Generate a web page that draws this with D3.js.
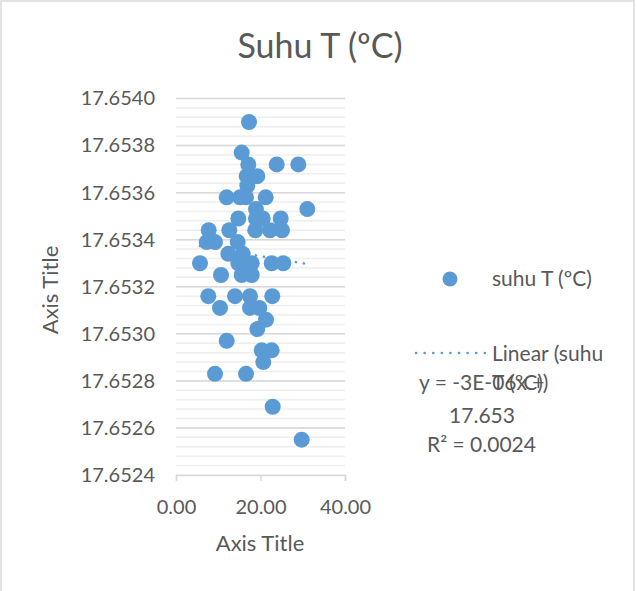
<!DOCTYPE html>
<html>
<head>
<meta charset="utf-8">
<script src="https://cdn.jsdelivr.net/npm/d3@7"></script>
<style>
  body { margin: 0; background: #fff; }
  text { font-family: Lato, "Open Sans", sans-serif; fill: #595959; }
</style>
</head>
<body>
<div id="chart"></div>
<script>
// suhu T (ºC) readings
var xValues = [17.28, 15.55, 17.11, 23.83, 28.95, 16.73, 19.24, 16.88, 12.00, 15.15,
  16.57, 21.23, 31.08, 18.93, 14.75, 18.93, 20.52, 24.78, 7.74, 12.62,
  18.77, 22.25, 25.09, 7.27, 9.23, 14.60, 12.38, 15.79, 5.68, 14.75,
  17.92, 22.65, 25.40, 10.65, 15.55, 17.92, 16.17, 7.64, 13.96, 17.51,
  22.79, 10.41, 17.51, 19.72, 21.30, 19.24, 12.00, 20.28, 22.65, 20.66,
  9.23, 16.57, 22.89, 29.75];
var yValues = [17.65390, 17.65377, 17.65372, 17.65372, 17.65372, 17.65367, 17.65367, 17.65363, 17.65358, 17.65358,
  17.65358, 17.65358, 17.65353, 17.65353, 17.65349, 17.65349, 17.65349, 17.65349, 17.65344, 17.65344,
  17.65344, 17.65344, 17.65344, 17.65339, 17.65339, 17.65339, 17.65334, 17.65334, 17.65330, 17.65330,
  17.65330, 17.65330, 17.65330, 17.65325, 17.65325, 17.65325, 17.65330, 17.65316, 17.65316, 17.65316,
  17.65316, 17.65311, 17.65311, 17.65311, 17.65306, 17.65302, 17.65297, 17.65293, 17.65293, 17.65288,
  17.65283, 17.65283, 17.65269, 17.65255];

var xTicks = [0, 20, 40];
var yTicks = [17.6524, 17.6526, 17.6528, 17.6530, 17.6532, 17.6534, 17.6536, 17.6538, 17.6540];
var yMinorStep = 0.00004;

// trendline as shown by the chart (slope from label, intercept)
var trendSlope = -3e-6;
var trendIntercept = 17.65339;

var chartTitle = "Suhu T (ºC)";
var seriesName = "suhu T (ºC)";
var trendName = ["Linear (suhu", "T (ºC))"];
var trendLabel = ["y = -3E-06x +", "17.653", "R² = 0.0024"];

var blue = "#5b9bd5";

var svg = d3.select("#chart").append("svg")
  .attr("width", 637)
  .attr("height", 591);

svg.append("rect")
  .attr("x", 1).attr("y", 1)
  .attr("width", 633).attr("height", 620)
  .attr("fill", "#fff")
  .attr("stroke", "#d9d9d9")
  .attr("stroke-width", 1.5);

var x = d3.scaleLinear().domain([0, 40]).range([176, 345]);
var y = d3.scaleLinear().domain([17.6524, 17.6540]).range([475, 98.5]);

// minor gridlines
var minor = d3.range(17.6524, 17.65401, yMinorStep);
svg.append("g").selectAll("line")
  .data(minor)
  .join("line")
  .attr("x1", x(0)).attr("x2", x(40))
  .attr("y1", d => y(d)).attr("y2", d => y(d))
  .attr("stroke", "#eeeeee")
  .attr("stroke-width", 1.5);

// major gridlines
svg.append("g").selectAll("line")
  .data(yTicks.slice(1))
  .join("line")
  .attr("x1", x(0)).attr("x2", x(40))
  .attr("y1", d => y(d)).attr("y2", d => y(d))
  .attr("stroke", "#d9d9d9")
  .attr("stroke-width", 1.5);

// x axis
var xAxis = svg.append("g")
  .attr("transform", "translate(0," + y(17.6524) + ")")
  .call(d3.axisBottom(x).tickValues(xTicks).tickSize(6).tickPadding(19).tickFormat(d3.format(".2f")));
xAxis.select(".domain").attr("stroke", "#d9d9d9").attr("stroke-width", 1.5);
xAxis.selectAll(".tick line").attr("stroke", "#d9d9d9").attr("stroke-width", 1.5);
xAxis.selectAll(".tick text").attr("font-size", 20).attr("font-family", "Lato").attr("fill", "#595959");

// y axis labels
var yAxis = svg.append("g")
  .attr("transform", "translate(" + x(0) + ",0)")
  .call(d3.axisLeft(y).tickValues(yTicks).tickSize(0).tickPadding(21).tickFormat(d3.format(".4f")));
yAxis.select(".domain").remove();
yAxis.selectAll(".tick text").attr("font-size", 20).attr("font-family", "Lato").attr("fill", "#595959");

// points
svg.append("g").selectAll("circle")
  .data(xValues.map((v, i) => [v, yValues[i]]))
  .join("circle")
  .attr("cx", d => x(d[0]))
  .attr("cy", d => y(d[1]))
  .attr("r", 8)
  .attr("fill", blue);

// linear trendline over the data range
var ext = d3.extent(xValues);
svg.append("line")
  .attr("x1", x(ext[0])).attr("y1", y(trendIntercept + trendSlope * ext[0]))
  .attr("x2", x(ext[1])).attr("y2", y(trendIntercept + trendSlope * ext[1]))
  .attr("stroke", blue)
  .attr("stroke-width", 2.6)
  .attr("stroke-dasharray", "0.1 8")
  .attr("stroke-linecap", "round");

// title
svg.append("text")
  .attr("x", 320).attr("y", 58)
  .attr("text-anchor", "middle")
  .attr("font-size", 34)
  .text(chartTitle);

// axis titles
svg.append("text")
  .attr("x", 260).attr("y", 551)
  .attr("text-anchor", "middle")
  .attr("font-size", 22)
  .text("Axis Title");
svg.append("text")
  .attr("transform", "translate(58,290) rotate(-90)")
  .attr("text-anchor", "middle")
  .attr("font-size", 22)
  .text("Axis Title");

// legend
svg.append("circle")
  .attr("cx", 450).attr("cy", 279)
  .attr("r", 7.5)
  .attr("fill", blue);
svg.append("text")
  .attr("x", 492).attr("y", 286)
  .attr("font-size", 21)
  .text(seriesName);
svg.append("line")
  .attr("x1", 416).attr("x2", 485)
  .attr("y1", 353).attr("y2", 353)
  .attr("stroke", blue)
  .attr("stroke-width", 2.6)
  .attr("stroke-dasharray", "0.1 8.5")
  .attr("stroke-linecap", "round");
svg.selectAll(".trendname")
  .data(trendName)
  .join("text")
  .attr("class", "trendname")
  .attr("x", 492)
  .attr("y", (d, i) => 361 + i * 29)
  .attr("font-size", 21)
  .text(d => d);

// trendline equation
svg.append("text").attr("x", 419).attr("y", 390).attr("font-size", 21).text(trendLabel[0]);
svg.append("text").attr("x", 482).attr("y", 423).attr("text-anchor", "middle").attr("font-size", 21).text(trendLabel[1]);
svg.append("text").attr("x", 427).attr("y", 452).attr("font-size", 21).text(trendLabel[2]);
</script>
</body>
</html>
